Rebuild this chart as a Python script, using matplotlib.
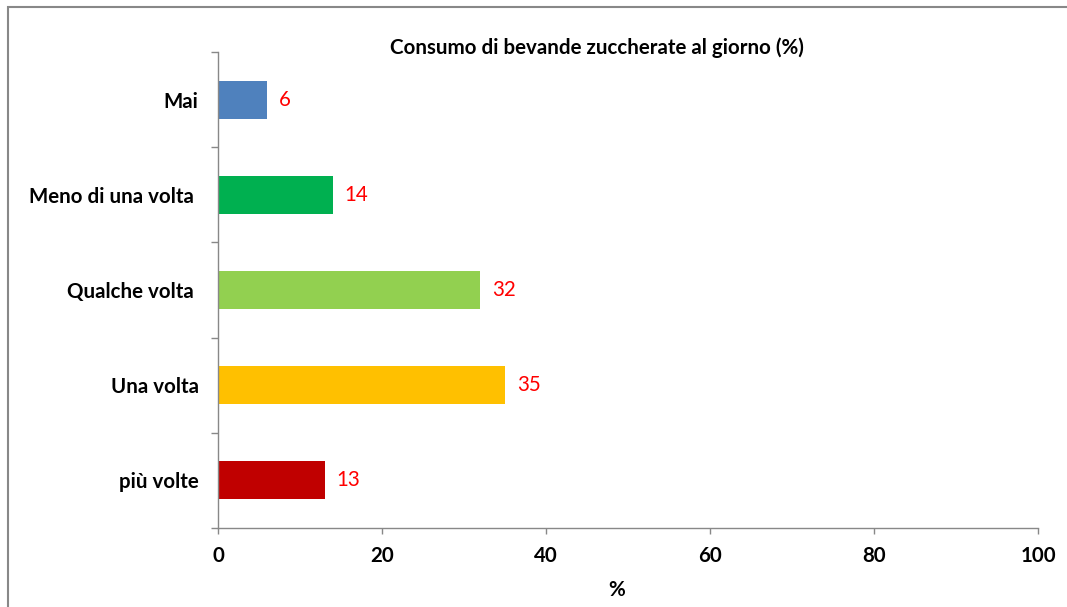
import matplotlib
matplotlib.use("Agg")
import matplotlib.pyplot as plt
from matplotlib.patches import Rectangle
import numpy as np

categories = ["Mai", "Meno di una volta ", "Qualche volta ", "Una volta", "più volte"]
values = [6, 14, 32, 35, 13]
colors = ["#4F81BD", "#00B050", "#92D050", "#FFC000", "#C00000"]
xticks = [0, 20, 40, 60, 80, 100]
title = "Consumo di bevande zuccherate al giorno (%)"
xlabel = "%"

plt.rcParams['font.family'] = ['Lato', 'DejaVu Sans']
FS = 14.8

fig = plt.figure(figsize=(10.67, 6.07), dpi=100)
ax = fig.add_axes([218/1067, 1-528/607, (1038-218)/1067, (528-52)/607])

y = np.arange(len(categories))
ax.barh(y, values, height=0.4, color=colors, zorder=2)
for yi, v in zip(y, values):
    ax.annotate(str(v), xy=(v, yi), xytext=(12, 0), textcoords="offset pixels",
                va="center", ha="left", color="#FF0000", fontsize=FS)

ax.set_xlim(0, 100)
ax.set_ylim(len(categories) - 0.5, -0.5)
ax.set_xticks(xticks)
ax.set_xticklabels([str(t) for t in xticks], fontsize=FS, fontweight="bold")
ax.set_yticks(y)
ax.set_yticklabels(categories, fontsize=FS, fontweight="bold")
ax.set_yticks(np.arange(-0.5, len(categories), 1.0), minor=True)
ax.tick_params(axis="y", which="major", length=0, pad=14)
ax.tick_params(axis="y", which="minor", length=5, color="#888888", width=1)
ax.tick_params(axis="x", which="major", length=4, color="#888888", width=1, pad=9)

for s in ["top", "right"]:
    ax.spines[s].set_visible(False)
for s in ["left", "bottom"]:
    ax.spines[s].set_color("#888888")
    ax.spines[s].set_linewidth(1)

fig.text(597/1067, 1-48/607, title, ha="center", va="center", fontsize=FS, fontweight="bold")
fig.text(617/1067, 1-590/607, xlabel, ha="center", va="center", fontsize=FS, fontweight="bold")

# outer frame (partially visible)
fig.add_artist(Rectangle((8/1067, -0.05), 1.2, 1 - 7/607 + 0.05, transform=fig.transFigure,
                         fill=False, edgecolor="#888888", linewidth=1.5))

fig.savefig("out.png", dpi=100)
